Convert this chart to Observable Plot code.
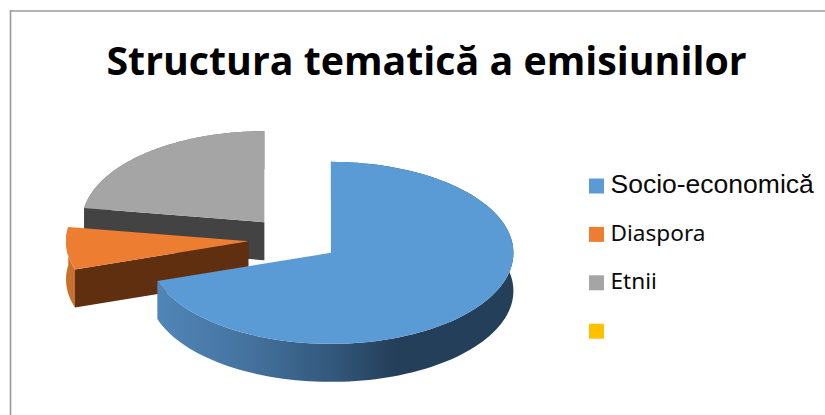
<!DOCTYPE html>
<html>
<head>
<meta charset="utf-8">
<script src="https://cdn.jsdelivr.net/npm/d3@7"></script>
<script src="https://cdn.jsdelivr.net/npm/@observablehq/plot@0.6"></script>
<style>html,body{margin:0;padding:0;background:#fff}svg{display:block}</style>
</head>
<body>
<div id="chart"></div>
<script>
const chartTitle = "Structura tematică a emisiunilor";
const categories = ["Socio-economică", "Diaspora", "Etnii", ""];
const values = [70, 7.5, 22.5, 0];
const topColors = ["#5b9bd5", "#ed7d31", "#a5a5a5", "#ffc000"];
const faceColors = ["#3f6d96", "#5f2f10", "#434343", "#ffc000"];
const wallColors = ["url(#blueWall)", "#c8702c", "#6b6b6b", "#ffc000"];
const legendFonts = [
  {fontFamily: "Liberation Sans", fontSize: 26.5},
  {fontFamily: "Noto Sans", fontSize: 22.6},
  {fontFamily: "Noto Sans", fontSize: 22.6},
  {fontFamily: "Noto Sans", fontSize: 22.6}
];

// 3D pie layout
const W = 825, H = 415;
const cx = 293.5, cy = 239, rx = 182.5, ry = 91, depth = 38, explode = 0.25;
const total = d3.sum(values);

let acc = 0;
const slices = values.map((v, i) => {
  const a0 = acc / total * 2 * Math.PI;
  acc += v;
  const a1 = acc / total * 2 * Math.PI;
  const mid = (a0 + a1) / 2;
  return {i, a0, a1, ox: cx + rx * explode * Math.sin(mid), oy: cy - ry * explode * Math.cos(mid)};
}).filter(s => s.a1 > s.a0);

const pt = (s, a, dz = 0) => ({x: s.ox + rx * Math.sin(a), y: s.oy - ry * Math.cos(a) + dz});
const arc = (s, a0, a1, dz = 0) => d3.range(0, 121).map(k => pt(s, a0 + (a1 - a0) * k / 120, dz));
const topShape = s => [{x: s.ox, y: s.oy}, ...arc(s, s.a0, s.a1), {x: s.ox, y: s.oy}];
const wallShape = s => [...arc(s, s.a0, s.a1), ...arc(s, s.a1, s.a0, depth)];
const faceShape = (s, a) => [{x: s.ox, y: s.oy}, pt(s, a), pt(s, a, depth), {x: s.ox, y: s.oy + depth}];

const poly = (pts, fill) => Plot.line(pts, {x: "x", y: "y", fill, stroke: "none", curve: "linear-closed"});

const pieMarks = [];
for (const s of [...slices].sort((a, b) => b.i - a.i)) {
  pieMarks.push(poly(wallShape(s), wallColors[s.i]));
  pieMarks.push(poly(faceShape(s, s.a0), faceColors[s.i]));
  pieMarks.push(poly(topShape(s), topColors[s.i]));
}

const legendRows = categories.map((name, i) => ({name, i, x: 596, y: 185.5 + i * 48.4}));

const gradientDefs = () => {
  const svg = d3.create("svg:defs");
  const g = svg.append("linearGradient").attr("id", "blueWall")
    .attr("gradientUnits", "userSpaceOnUse")
    .attr("x1", 157).attr("x2", 513).attr("y1", 0).attr("y2", 0);
  [[0, "#5086b8"], [0.25, "#45739f"], [0.5, "#32577a"], [0.67, "#243f59"], [1, "#243f59"]]
    .forEach(([o, c]) => g.append("stop").attr("offset", o).attr("stop-color", c));
  return svg.node();
};

const plot = Plot.plot({
  width: W, height: H,
  margin: 0,
  style: {background: "#fff", overflow: "visible"},
  x: {domain: [0, W], range: [0, W], axis: null},
  y: {domain: [0, H], range: [0, H], axis: null},
  marks: [
    gradientDefs,
    Plot.ruleX([10], {y1: 10, y2: H, stroke: "#999999", strokeWidth: 1.6}),
    Plot.ruleY([10.5], {x1: 10, x2: W, stroke: "#999999", strokeWidth: 1.6}),
    Plot.text([chartTitle], {
      x: () => 426, y: () => 62, text: d => d,
      fontFamily: "Open Sans", fontWeight: 700, fontSize: 39.3, fill: "#000", textAnchor: "middle"
    }),
    ...pieMarks,
    Plot.dot(legendRows, {x: "x", y: "y", symbol: "square", r: 8.46, fill: d => topColors[d.i], stroke: "none"}),
    ...legendRows.filter(d => d.name).map(d => Plot.text([d], {
      x: () => 610, y: () => d.y - 1, text: "name", textAnchor: "start", fill: "#0a0a0a",
      ...legendFonts[d.i]
    }))
  ]
});
document.getElementById("chart").append(plot);
</script>
</body>
</html>
